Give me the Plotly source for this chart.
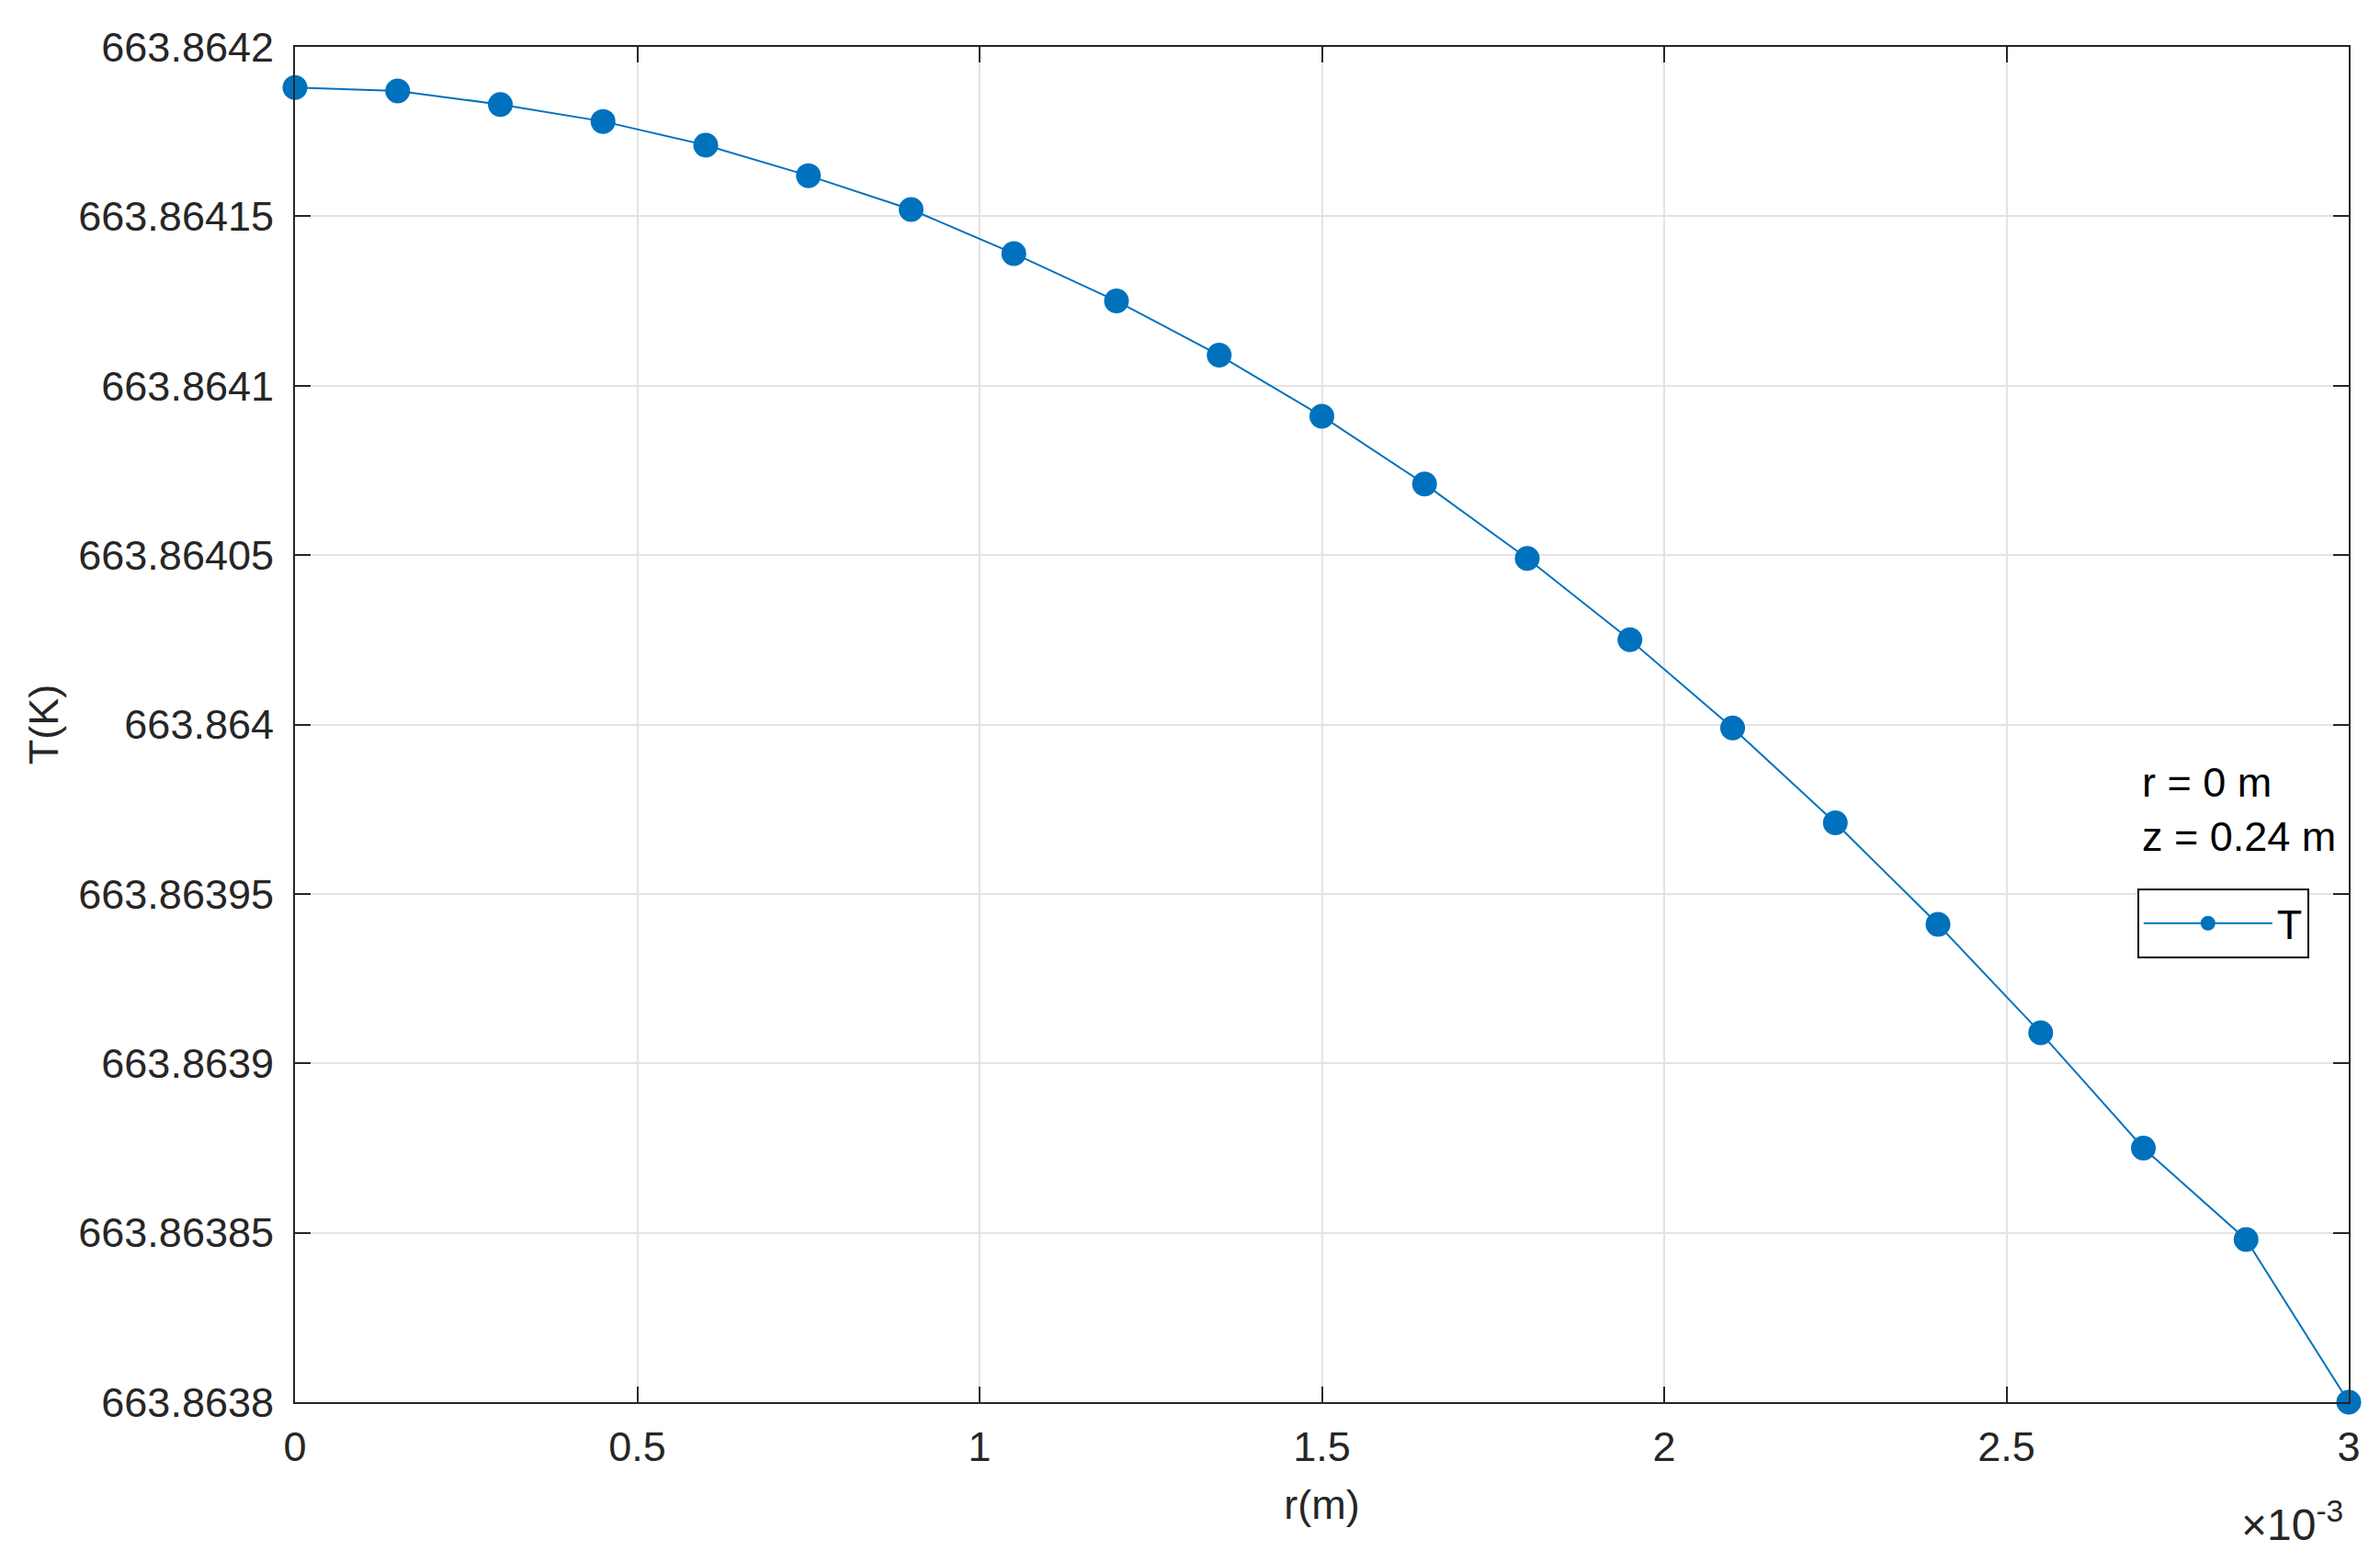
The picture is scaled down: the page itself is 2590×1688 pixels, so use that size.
import plotly.graph_objects as go

# Data
r_m = [0.0, 0.00015, 0.0003, 0.00045, 0.0006, 0.00075, 0.0009, 0.00105, 0.0012, 0.00135,
       0.0015, 0.00165, 0.0018, 0.00195, 0.0021, 0.00225, 0.0024, 0.00255, 0.0027, 0.00285, 0.003]
T_K = [663.864188, 663.864187, 663.864183, 663.864178, 663.864171, 663.864162, 663.864152,
       663.864139, 663.864125, 663.864109, 663.864091, 663.864071, 663.864049, 663.864025,
       663.863999, 663.863971, 663.863941, 663.863909, 663.863875, 663.863848, 663.8638]

x_tickvals = [0.0, 0.0005, 0.001, 0.0015, 0.002, 0.0025, 0.003]
x_ticktext = ["0", "0.5", "1", "1.5", "2", "2.5", "3"]
y_tickvals = [663.8638, 663.86385, 663.8639, 663.86395, 663.864, 663.86405, 663.8641, 663.86415, 663.8642]
y_ticktext = ["663.8638", "663.86385", "663.8639", "663.86395", "663.864", "663.86405", "663.8641", "663.86415", "663.8642"]

FONT = "Liberation Sans, Arial, Helvetica, sans-serif"
BLUE = "#0072BD"
AXC = "#262626"
FS = 45

fig = go.Figure()
fig.add_trace(go.Scatter(
    x=r_m, y=T_K, mode="lines+markers", name="T",
    line=dict(color=BLUE, width=2),
    marker=dict(color=BLUE, size=27),
    cliponaxis=False,
))

axis_common = dict(
    showline=True, linecolor=AXC, linewidth=2, mirror="ticks",
    ticks="inside", ticklen=17, tickwidth=2, tickcolor=AXC,
    showgrid=True, gridcolor="#E3E3E3", gridwidth=2, zeroline=False,
    tickfont=dict(family=FONT, size=FS, color=AXC),
)

fig.update_xaxes(
    range=[0, 0.003], tickvals=x_tickvals, ticktext=x_ticktext,
    title=dict(text="r(m)", font=dict(family=FONT, size=FS, color=AXC), standoff=22),
    ticklabelstandoff=8,
    **axis_common,
)
fig.update_yaxes(
    range=[663.8638, 663.8642], tickvals=y_tickvals, ticktext=y_ticktext,
    title=dict(text="T(K)", font=dict(family=FONT, size=FS, color=AXC), standoff=8),
    ticklabelstandoff=12,
    **axis_common,
)

fig.add_annotation(
    x=0.998, y=-0.088, xref="paper", yref="paper", xanchor="right", yanchor="middle",
    text="×10<sup>-3</sup>", showarrow=False,
    font=dict(family=FONT, size=48, color=AXC),
)
fig.add_annotation(
    x=0.8985, y=0.437, xref="paper", yref="paper", xanchor="left", yanchor="middle",
    text="r = 0 m<br>z = 0.24 m", align="left", showarrow=False,
    font=dict(family=FONT, size=FS, color="#000000"),
)

fig.update_layout(
    width=2590, height=1688,
    margin=dict(l=313, r=42, t=43, b=170),
    paper_bgcolor="white", plot_bgcolor="white",
    showlegend=True,
    legend=dict(
        x=0.897, y=0.379, xanchor="left", yanchor="top",
        bordercolor="#000000", borderwidth=2, bgcolor="white",
        font=dict(family=FONT, size=FS, color="#000000"),
        itemwidth=140,
    ),
)

fig.write_html("out.html")
